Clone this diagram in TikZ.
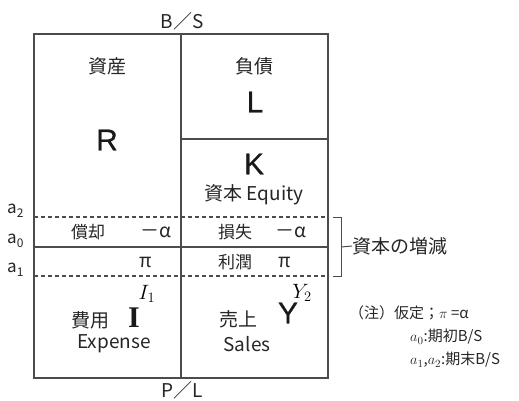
\documentclass[tikz,border=0pt]{standalone}
\usepackage{fontspec}
\setmainfont{Noto Sans CJK JP}
\newfontfamily\lat{Liberation Sans}[FakeBold=0.6]
\newfontfamily\serifo{Liberation Serif}
\newcommand{\lsub}[1]{\raisebox{-0.45ex}{\fontsize{12}{12}\selectfont #1}}
\begin{document}
\begin{tikzpicture}[x=1pt,y=-1pt,
  txt/.style={inner sep=0pt, text=black!85, font=\fontsize{19}{22}\selectfont},
  mid/.style={inner sep=0pt, text=black!85, font=\fontsize{17}{20}\selectfont},
  small/.style={inner sep=0pt, text=black!85, font=\fontsize{15}{18}\selectfont},
  alab/.style={inner sep=0pt, text=black!85, font=\fontsize{17}{20}\selectfont},
  big/.style={inner sep=0pt, text=black!90, font=\lat\fontsize{30}{32}\selectfont},
  boxline/.style={draw=black!70, line width=1.3pt},
  dashline/.style={draw=black!70, line width=1.1pt, dash pattern=on 4pt off 3pt},
  brline/.style={draw=black!70, line width=1pt},
]
\useasboundingbox (0,0) rectangle (519,400);
% frame
\draw[boxline] (34,34) rectangle (328,378);
\draw[boxline] (181,34) -- (181,378);
\draw[boxline] (181,139) -- (328,139);
\draw[dashline] (34,217) -- (328,217);
\draw[boxline] (34,247) -- (328,247);
\draw[dashline] (34,276) -- (328,276);
% titles
\node[txt] (bs) at (182,21) {B／S};
\node[txt] (pl) at (182,390) {P／L};
% upper
\node[txt] (shisan) at (107,66) {資産};
\node[big] (R) at (107,140) {R};
\node[txt] (fusai) at (254,66) {負債};
\node[big] (L) at (255,102) {L};
\node[big] (K) at (254,164) {K};
\node[txt] (equity) at (254,195) {資本 Equity};
% a labels
\node[alab, anchor=west] (a2) at (7,211) {a\lsub{2}};
\node[alab, anchor=west] (a0) at (7,241) {a\lsub{0}};
\node[alab, anchor=west] (a1) at (7,270) {a\lsub{1}};
% middle bands
\node[mid] (shokyaku) at (88,232) {償却};
\node[txt] (ma1) at (156,232) {－α};
\node[mid] (sonshitsu) at (235,232) {損失};
\node[txt] (ma2) at (291,232) {－α};
\node[txt] (pi1) at (146,262) {π};
\node[mid] (rijun) at (235,262) {利潤};
\node[txt] (pi2) at (285,262) {π};
% lower
\node[inner sep=0pt, font=\fontsize{20}{22}\selectfont] (I1) at (147,294) {$I_1$};
\node[inner sep=0pt, text=black!90, font=\serifo\bfseries\fontsize{30}{32}\selectfont] (I) at (134,318) {I};
\node[txt] (hiyou) at (90,320) {費用};
\node[txt] (expense) at (114,344) {Expense};
\node[inner sep=0pt, font=\fontsize{20}{22}\selectfont] (Y2) at (302,293) {$Y_2$};
\node[big] (Y) at (288,313) {Y};
\node[txt] (uriage) at (238,319) {売上};
\node[txt] (sales) at (247,344) {Sales};
% bracket
\coordinate (bt0) at (333,217);
\coordinate (bt) at (341,217);
\coordinate (bb) at (341,276);
\coordinate (bb0) at (333,276);
\coordinate (bm) at (341,247);
\node[txt, anchor=west] (zougen) at (352,246) {資本の増減};
\draw[brline] (bt0) -- (bt) -- (bb) -- (bb0);
\draw[brline] (bm) -- (zougen.west);
% note
\node[small, anchor=west] (note1) at (349,313) {（注）仮定；$\pi$ =α};
\node[small, anchor=west] (note2) at (410,337) {$a_0$:期初B/S};
\node[small, anchor=west] (note3) at (410,360) {$a_1$,$a_2$:期末B/S};
\end{tikzpicture}
\end{document}
